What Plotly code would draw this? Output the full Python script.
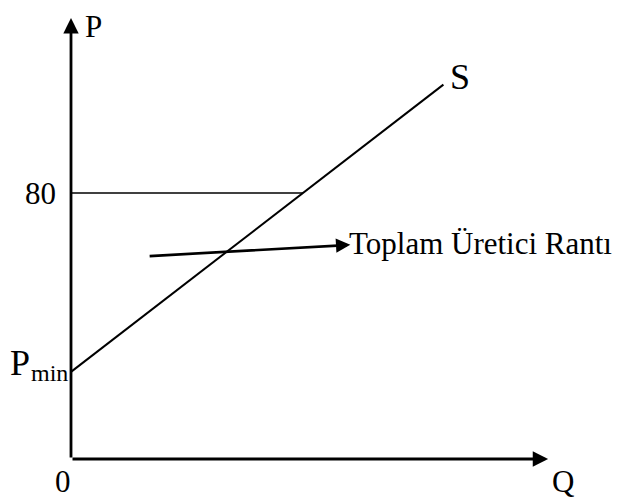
import plotly.graph_objects as go

# ---- data ----
p_min = 26.2
p_level = 80
supply_q = [0, 112]
supply_p = [26.2, 112.6]
price_line_q = [0, 69.8]
price_line_p = [80, 80]
arrow_from = (23.2, 61.0)
arrow_to = (84.0, 64.4)
q_axis_max = 143.5
p_axis_max = 132.6
tick_labels = {"origin": "0", "price": "80"}
axis_titles = {"x": "Q", "y": "P"}
supply_label = "S"
area_label = "Toplam Üretici Rantı"

PX = 3.325  # pixels per unit
W, H = 625, 502
X0, Y0 = 71, 459
FONT = "Liberation Serif, Times New Roman, serif"

fig = go.Figure()
fig.add_trace(go.Scatter(x=supply_q, y=supply_p, mode="lines",
                         line=dict(color="black", width=2), hoverinfo="skip"))
fig.add_trace(go.Scatter(x=price_line_q, y=price_line_p, mode="lines",
                         line=dict(color="black", width=1.6), hoverinfo="skip"))

ann = []
# axes with arrows
ann.append(dict(x=0, y=p_axis_max, ax=0, ay=0, xref="x", yref="y", axref="x", ayref="y",
                text="", showarrow=True, arrowhead=2, arrowsize=1.1, arrowwidth=2.8,
                arrowcolor="black"))
ann.append(dict(x=q_axis_max, y=0, ax=0, ay=0, xref="x", yref="y", axref="x", ayref="y",
                text="", showarrow=True, arrowhead=2, arrowsize=1.1, arrowwidth=2.8,
                arrowcolor="black"))
# pointer arrow
ann.append(dict(x=arrow_to[0], y=arrow_to[1], ax=arrow_from[0], ay=arrow_from[1],
                xref="x", yref="y", axref="x", ayref="y",
                text="", showarrow=True, arrowhead=2, arrowsize=1.1, arrowwidth=2.6,
                arrowcolor="black"))

def txt(t, x, y, size, xanchor="center", yanchor="middle", xshift=0, yshift=0):
    ann.append(dict(x=x, y=y, xref="x", yref="y", text=t, showarrow=False,
                    xanchor=xanchor, yanchor=yanchor, xshift=xshift, yshift=yshift,
                    borderpad=0,
                    font=dict(family=FONT, size=size, color="black")))

txt(axis_titles["y"], 0, p_axis_max, 31, xanchor="left", xshift=13, yshift=-8)
txt(axis_titles["x"], q_axis_max, 0, 31, xanchor="center", yshift=-22, xshift=15)
txt(tick_labels["origin"], 0, 0, 31, xanchor="center", yshift=-22, xshift=-8)
txt(tick_labels["price"], 0, p_level, 31, xanchor="right", xshift=-14, yshift=0)
txt("P", 0, p_min, 36, xanchor="right", xshift=-40, yshift=9)
txt("min", 0, p_min, 24, xanchor="right", xshift=-2, yshift=-1)
txt(supply_label, supply_q[1], supply_p[1], 36, xanchor="left", xshift=6, yshift=8)
txt(area_label, arrow_to[0], arrow_to[1], 31, xanchor="left", xshift=-2, yshift=1)

fig.update_layout(
    width=W, height=H, margin=dict(l=0, r=0, t=0, b=0),
    paper_bgcolor="white", plot_bgcolor="white", showlegend=False,
    xaxis=dict(range=[-X0 / PX, (W - X0) / PX], visible=False, fixedrange=True),
    yaxis=dict(range=[-(H - Y0) / PX, Y0 / PX], visible=False, fixedrange=True),
    annotations=ann,
)
fig.write_html("out.html", config={"displayModeBar": False},
               post_script="document.body.style.margin='0';document.body.style.overflow='hidden';")
